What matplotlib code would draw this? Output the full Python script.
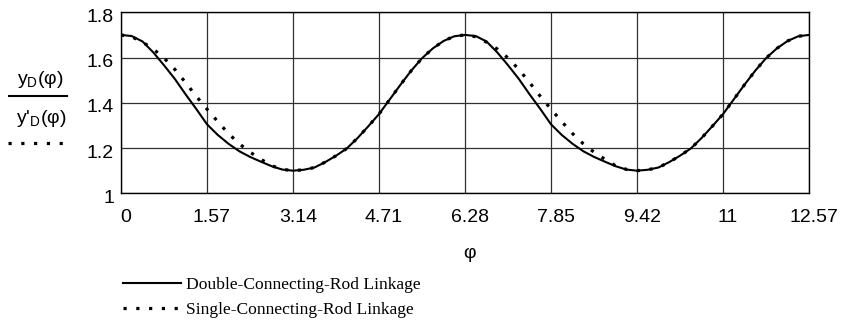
import matplotlib
matplotlib.use("Agg")
import matplotlib.pyplot as plt
from matplotlib.lines import Line2D
from matplotlib.transforms import ScaledTranslation

# crank angle samples (pi/16 steps over two turns)
phi = [0.000, 0.196, 0.393, 0.589, 0.785, 0.982, 1.178, 1.374, 1.571, 1.767, 1.963,
       2.160, 2.356, 2.553, 2.749, 2.945, 3.142, 3.338, 3.534, 3.731, 3.927, 4.123,
       4.320, 4.516, 4.712, 4.909, 5.105, 5.301, 5.498, 5.694, 5.890, 6.087, 6.283,
       6.480, 6.676, 6.872, 7.069, 7.265, 7.461, 7.658, 7.854, 8.050, 8.247, 8.443,
       8.639, 8.836, 9.032, 9.228, 9.425, 9.621, 9.817, 10.014, 10.210, 10.407,
       10.603, 10.799, 10.996, 11.192, 11.388, 11.585, 11.781, 11.977, 12.174,
       12.370, 12.566]

# double-connecting-rod linkage, y_D(phi)
y_double = [1.700, 1.695, 1.671, 1.623, 1.566, 1.506, 1.438, 1.373, 1.305, 1.258, 1.219,
            1.186, 1.161, 1.140, 1.120, 1.105, 1.100, 1.104, 1.114, 1.138, 1.166, 1.198,
            1.244, 1.296, 1.350, 1.415, 1.480, 1.542, 1.597, 1.640, 1.673, 1.694, 1.700,
            1.695, 1.671, 1.623, 1.566, 1.506, 1.438, 1.373, 1.305, 1.258, 1.219,
            1.186, 1.161, 1.140, 1.120, 1.105, 1.100, 1.104, 1.114, 1.138, 1.166, 1.198,
            1.244, 1.296, 1.350, 1.415, 1.480, 1.542, 1.597, 1.640, 1.673, 1.694, 1.700]

# single-connecting-rod linkage, y'_D(phi)
y_single = [1.700, 1.692, 1.668, 1.638, 1.598, 1.548, 1.490, 1.429, 1.372, 1.317, 1.264,
            1.219, 1.182, 1.151, 1.122, 1.106, 1.100, 1.104, 1.114, 1.138, 1.166, 1.198,
            1.244, 1.296, 1.350, 1.415, 1.480, 1.542, 1.597, 1.640, 1.673, 1.694, 1.700,
            1.692, 1.668, 1.638, 1.598, 1.548, 1.490, 1.429, 1.372, 1.317, 1.264,
            1.219, 1.182, 1.151, 1.122, 1.106, 1.100, 1.104, 1.114, 1.138, 1.166, 1.198,
            1.244, 1.296, 1.350, 1.415, 1.480, 1.542, 1.597, 1.640, 1.673, 1.694, 1.700]

x_ticks = [0, 1.5708, 3.1416, 4.7124, 6.2832, 7.854, 9.4248, 10.9956, 12.5664]
x_tick_labels = ["0", "1.57", "3.14", "4.71", "6.28", "7.85", "9.42", "11", "12.57"]
y_ticks = [1.0, 1.2, 1.4, 1.6, 1.8]
y_tick_labels = ["1", "1.2", "1.4", "1.6", "1.8"]

legend_labels = ["Double-Connecting-Rod Linkage", "Single-Connecting-Rod Linkage"]

plt.rcParams["font.family"] = ["Liberation Sans", "DejaVu Sans"]
plt.rcParams["mathtext.fontset"] = "custom"
plt.rcParams["mathtext.rm"] = "Liberation Sans"
plt.rcParams["mathtext.it"] = "Liberation Sans"

W, H = 843, 321
figure = plt.figure(figsize=(W / 100, H / 100), dpi=100)
left, right, top, bottom = 121, 809, 12.3, 193.3
axis = figure.add_axes([left / W, 1 - bottom / H, (right - left) / W, (bottom - top) / H])

dot_style = (0, (1, 3.0))
axis.plot(phi, y_double, color="black", linewidth=1.5, solid_joinstyle="round")
axis.plot(phi, y_single, color="black", linewidth=2.3, linestyle=dot_style,
          dash_capstyle="butt")

axis.set_xlim(0, 12.5664)
axis.set_ylim(1.0, 1.8)
axis.set_xticks(x_ticks)
axis.set_xticklabels(x_tick_labels, fontsize=14)
axis.set_yticks(y_ticks)
axis.set_yticklabels(y_tick_labels, fontsize=14)
axis.tick_params(length=0)
axis.tick_params(axis="x", pad=11)
axis.tick_params(axis="y", pad=5)
axis.grid(True, color="#303030", linewidth=0.9)
for spine in axis.spines.values():
    spine.set_linewidth(1.0)

# mathcad puts the tick numbers a little right / below the grid lines
for label in axis.get_xticklabels():
    label.set_transform(label.get_transform() + ScaledTranslation(5 / 100, 0, figure.dpi_scale_trans))
for label in axis.get_yticklabels():
    label.set_transform(label.get_transform() + ScaledTranslation(0, -3 / 100, figure.dpi_scale_trans))

figure.text(470 / W, 1 - 254 / H, "φ", fontsize=14, ha="center", va="center")

# stacked y label with line samples
figure.text(40 / W, 1 - 79 / H, r"$\mathrm{y_D(φ)}$", fontsize=14, ha="center", va="center")
figure.add_artist(Line2D([9 / W, 67 / W], [1 - 96 / H, 1 - 96 / H], color="black",
                         linewidth=1.5, transform=figure.transFigure))
figure.text(41 / W, 1 - 119 / H, r"$\text{y'}_\mathrm{D}\mathrm{(φ)}$", fontsize=14,
            ha="center", va="center")
figure.add_artist(Line2D([8 / W, 62.5 / W], [1 - 143 / H, 1 - 143 / H], color="black",
                         linewidth=2.3, linestyle=dot_style, dash_capstyle="butt",
                         transform=figure.transFigure))

handles = [Line2D([], [], color="black", linewidth=1.5),
           Line2D([], [], color="black", linewidth=2.3, linestyle=dot_style, dash_capstyle="butt")]
figure.legend(handles, legend_labels, loc="upper left", bbox_to_anchor=(123 / W, 1 - 277 / H),
              frameon=False, prop={"family": "Liberation Serif", "size": 12.6},
              handlelength=3.3, handletextpad=0.3, labelspacing=0.5, borderpad=0,
              borderaxespad=0)

figure.savefig("out.png", dpi=100)
plt.close(figure)
